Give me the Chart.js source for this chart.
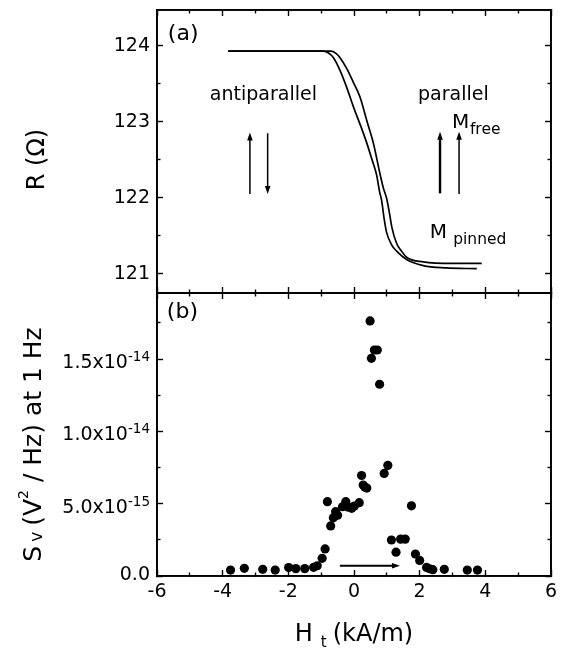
<!DOCTYPE html>
<html>
<head>
<meta charset="utf-8">
<script src="https://cdn.jsdelivr.net/npm/chart.js@4.4.0/dist/chart.umd.min.js"></script>
<style>
  html, body { margin: 0; padding: 0; background: #fff; }
  #wrap { position: relative; width: 563px; height: 649px; overflow: hidden; background: #fff; }
  canvas { position: absolute; left: 0; }
  #panelA { top: 0; }
  #panelB { top: 283px; }
</style>
</head>
<body>
<div id="wrap">
  <canvas id="panelA" width="563" height="300"></canvas>
  <canvas id="panelB" width="563" height="366"></canvas>
</div>
<script>
// (a) resistance vs field, two sweep branches (H in kA/m, R in ohm)
const branch1H = [-3.83, -1.50, -0.95, -0.80, -0.62, -0.43, -0.22, -0.02, 0.20, 0.39, 0.55, 0.69, 0.78, 0.84, 0.92, 0.99, 1.15, 1.30, 1.60, 2.11, 2.80, 3.74];
const branch1R = [123.93, 123.93, 123.93, 123.91, 123.84, 123.68, 123.45, 123.20, 122.95, 122.72, 122.50, 122.30, 122.08, 121.97, 121.72, 121.55, 121.38, 121.30, 121.19, 121.11, 121.08, 121.07];
const branch2H = [-3.83, -1.50, -0.70, -0.55, -0.42, -0.22, -0.02, 0.18, 0.40, 0.59, 0.79, 0.90, 0.99, 1.08, 1.15, 1.30, 1.45, 1.60, 2.11, 3.00, 3.89];
const branch2R = [123.93, 123.93, 123.93, 123.90, 123.84, 123.70, 123.52, 123.33, 123.00, 122.72, 122.32, 122.12, 122.00, 121.80, 121.62, 121.40, 121.30, 121.22, 121.16, 121.14, 121.14];

// (b) noise power at 1 Hz (V^2/Hz)
const noiseH = [-3.76, -3.34, -2.78, -2.40, -1.99, -1.77, -1.50, -1.23, -1.12, -0.97, -0.88, -0.81, -0.71, -0.63, -0.56, -0.50, -0.35, -0.25, -0.17, -0.07, 0.01, 0.16, 0.23, 0.28, 0.33, 0.39, 0.49, 0.53, 0.62, 0.71, 0.78, 0.92, 1.03, 1.14, 1.28, 1.42, 1.56, 1.75, 1.87, 2.00, 2.21, 2.30, 2.40, 2.75, 3.45, 3.76];
const noiseS = [4.1e-16, 5.3e-16, 4.6e-16, 4.1e-16, 5.8e-16, 5.1e-16, 5.1e-16, 6.0e-16, 7.1e-16, 1.22e-15, 1.87e-15, 5.14e-15, 3.46e-15, 4.02e-15, 4.45e-15, 4.20e-15, 4.79e-15, 5.14e-15, 4.76e-15, 4.68e-15, 4.84e-15, 5.07e-15, 6.95e-15, 6.29e-15, 6.15e-15, 6.08e-15, 1.764e-14, 1.505e-14, 1.563e-14, 1.563e-14, 1.326e-14, 7.09e-15, 7.65e-15, 2.49e-15, 1.65e-15, 2.55e-15, 2.55e-15, 4.85e-15, 1.52e-15, 1.08e-15, 5.9e-16, 5.0e-16, 4.4e-16, 4.6e-16, 4.1e-16, 4.1e-16];

// axes
const hRange = [-6, 6];
const hTicks = [-6, -4, -2, 0, 2, 4, 6];
const hMinor = [-5, -3, -1, 1, 3, 5];
const rRange = [120.75, 124.47];
const rTicks = [121, 122, 123, 124];
const rMinor = [121.5, 122.5, 123.5];
const sRange = [0, 1.957e-14];
const sTicks = [0, 5e-15, 1e-14, 1.5e-14];
const sMinor = [2.5e-15, 7.5e-15, 1.25e-14, 1.75e-14];
const sTickText = ['0.0', '5.0x10', '1.0x10', '1.5x10'];
const sTickExp = ['', '-15', '-14', '-14'];

const FONT = '"DejaVu Sans", sans-serif';

// one set of inward tick marks; size = room the box takes in the layout
function tickAxis(position, range, values, len, size, weight, labelOpts) {
  return {
    type: 'linear',
    position: position,
    weight: weight,
    min: range[0],
    max: range[1],
    afterBuildTicks: s => { s.ticks = values.map(v => ({ value: v })); },
    afterFit: s => {
      if (s.isHorizontal()) s.height = size; else s.width = size;
      s.paddingLeft = s.paddingRight = s.paddingTop = s.paddingBottom = 0;
    },
    grid: { drawOnChartArea: false, drawTicks: true, tickLength: -len, tickColor: '#000', tickWidth: 1.4 },
    border: { display: true, color: '#000', width: 1.8 },
    ticks: labelOpts
      ? Object.assign({ display: true, autoSkip: false, maxRotation: 0, color: '#000', font: { family: FONT, size: 19 } }, labelOpts)
      : { display: false }
  };
}

function frame(xRange, yRange, xMajor, xMinor, yMajor, yMinor, bottomSize, xLabels, yLabels) {
  return {
    xm: tickAxis('bottom', xRange, xMinor, 3.5, 0, 0),
    x: tickAxis('bottom', xRange, xMajor, 6, bottomSize, 1, xLabels),
    xt: tickAxis('top', xRange, xMajor, 6, 0, 0),
    xtm: tickAxis('top', xRange, xMinor, 3.5, 0, 1),
    y: tickAxis('left', yRange, yMajor, 6, 157, 1, yLabels),
    ym: tickAxis('left', yRange, yMinor, 3.5, 0, 0),
    yr: tickAxis('right', yRange, yMajor, 6, 0, 0),
    yrm: tickAxis('right', yRange, yMinor, 3.5, 0, 1)
  };
}

function arrow(ctx, x1, y1, x2, y2, lw) {
  const a = Math.atan2(y2 - y1, x2 - x1), len = 8, half = 2.8;
  const c = Math.cos(a), s = Math.sin(a);
  ctx.lineWidth = lw;
  ctx.beginPath();
  ctx.moveTo(x1, y1);
  ctx.lineTo(x2 - c * len * 0.7, y2 - s * len * 0.7);
  ctx.stroke();
  ctx.beginPath();
  ctx.moveTo(x2, y2);
  ctx.lineTo(x2 - c * len - s * half, y2 - s * len + c * half);
  ctx.lineTo(x2 - c * len + s * half, y2 - s * len - c * half);
  ctx.closePath();
  ctx.fill();
}

// text made of pieces (sub/superscripts), centred on (cx, cy) at baseline
function richText(ctx, parts, cx, cy, rot) {
  ctx.save();
  ctx.translate(cx, cy);
  ctx.rotate(rot);
  ctx.textAlign = 'left';
  ctx.textBaseline = 'alphabetic';
  let total = 0;
  parts.forEach(p => {
    ctx.font = p.size + 'px ' + FONT;
    p.w = ctx.measureText(p.t).width;
    total += p.w + (p.gap || 0);
  });
  let x = -total / 2;
  parts.forEach(p => {
    ctx.font = p.size + 'px ' + FONT;
    ctx.fillText(p.t, x, p.dy || 0);
    x += p.w + (p.gap || 0);
  });
  ctx.restore();
}

// annotations of panel (a), placed in data units
const notesA = [
  { t: '(a)', h: -5.67, r: 124.075, size: 22 },
  { t: 'antiparallel', h: -4.39, r: 123.29, size: 19 },
  { t: 'parallel', h: 1.95, r: 123.29, size: 19 },
  { t: 'M', h: 2.985, r: 122.92, size: 20 },
  { t: 'free', h: 3.53, r: 122.84, size: 15.5 },
  { t: 'M', h: 2.31, r: 121.47, size: 20 },
  { t: 'pinned', h: 3.02, r: 121.40, size: 15.5 }
];
const arrowsA = [
  { h: -3.17, from: 122.05, to: 122.86, w: 1.5 },
  { h: -2.63, from: 122.85, to: 122.05, w: 1.5 },
  { h: 2.62, from: 122.06, to: 122.87, w: 2.4 },
  { h: 3.20, from: 122.05, to: 122.87, w: 1.5 }
];

const drawA = {
  id: 'drawA',
  afterDraw(chart) {
    const { ctx, chartArea: area } = chart;
    const x = chart.scales.x, y = chart.scales.y;
    ctx.save();
    ctx.fillStyle = '#000';
    ctx.strokeStyle = '#000';
    ctx.textAlign = 'left';
    ctx.textBaseline = 'alphabetic';
    notesA.forEach(n => {
      ctx.font = n.size + 'px ' + FONT;
      ctx.fillText(n.t, x.getPixelForValue(n.h), y.getPixelForValue(n.r));
    });
    arrowsA.forEach(a => arrow(ctx, x.getPixelForValue(a.h), y.getPixelForValue(a.from), x.getPixelForValue(a.h), y.getPixelForValue(a.to), a.w));
    richText(ctx, [{ t: 'R (Ω)', size: 24 }], area.left - 113, (area.top + area.bottom) / 2 + 8, -Math.PI / 2);
    ctx.restore();
  }
};

const drawB = {
  id: 'drawB',
  afterDraw(chart) {
    const { ctx, chartArea: area } = chart;
    const x = chart.scales.x, y = chart.scales.y;
    ctx.save();
    ctx.fillStyle = '#000';
    ctx.strokeStyle = '#000';
    ctx.textBaseline = 'alphabetic';
    ctx.textAlign = 'left';
    ctx.font = '22px ' + FONT;
    ctx.fillText('(b)', x.getPixelForValue(-5.70), y.getPixelForValue(1.785e-14));
    arrow(ctx, x.getPixelForValue(-0.43), y.getPixelForValue(7.1e-16), x.getPixelForValue(1.40), y.getPixelForValue(7.1e-16), 2);

    // y tick labels with exponents
    ctx.textAlign = 'right';
    sTicks.forEach((v, i) => {
      const py = y.getPixelForValue(v);
      const right = area.left - 7;
      if (sTickExp[i]) {
        ctx.font = '13.5px ' + FONT;
        const ew = ctx.measureText(sTickExp[i]).width;
        ctx.fillText(sTickExp[i], right, py + 2);
        ctx.font = '19px ' + FONT;
        ctx.fillText(sTickText[i], right - ew, py + 9);
      } else {
        ctx.font = '19px ' + FONT;
        ctx.fillText(sTickText[i], right, py + 4);
      }
    });

    richText(ctx, [
      { t: 'S', size: 25, gap: 4 },
      { t: 'v', size: 17, dy: 1, gap: 6 },
      { t: '(V', size: 25 },
      { t: '2', size: 14, dy: -13 },
      { t: ' / Hz) at 1 Hz', size: 25 }
    ], 41, (area.top + area.bottom) / 2 + 10, -Math.PI / 2);

    richText(ctx, [
      { t: 'H', size: 24, gap: 8 },
      { t: 't', size: 15, dy: 6, gap: 6 },
      { t: '(kA/m)', size: 24 }
    ], (area.left + area.right) / 2, area.bottom + 65, 0);
    ctx.restore();
  }
};

function points(hs, vs) { return hs.map((h, i) => ({ x: h, y: vs[i] })); }

const common = {
  responsive: false,
  animation: false,
  devicePixelRatio: 1,
  plugins: { legend: { display: false }, tooltip: { enabled: false } }
};

new Chart(document.getElementById('panelA'), {
  type: 'scatter',
  data: {
    datasets: [branch1H, branch2H].map((hs, k) => ({
      data: points(hs, k === 0 ? branch1R : branch2R),
      xAxisID: 'x', yAxisID: 'y',
      showLine: true,
      cubicInterpolationMode: 'monotone',
      borderColor: '#000',
      borderWidth: 1.7,
      pointRadius: 0
    }))
  },
  options: Object.assign({}, common, {
    layout: { padding: { left: 0, right: 12, top: 10, bottom: 7 } },
    scales: frame(hRange, rRange, hTicks, hMinor, rTicks, rMinor, 0, null, { padding: 13 })
  }),
  plugins: [drawA]
});

new Chart(document.getElementById('panelB'), {
  type: 'scatter',
  data: {
    datasets: [{
      data: points(noiseH, noiseS),
      xAxisID: 'x', yAxisID: 'y',
      showLine: false,
      pointRadius: 4.6,
      pointBackgroundColor: '#000',
      pointBorderWidth: 0
    }]
  },
  options: Object.assign({}, common, {
    layout: { padding: { left: 0, right: 12, top: 10, bottom: 0 } },
    scales: frame(hRange, sRange, hTicks, hMinor, sTicks, sMinor, 73, { padding: 11 }, null)
  }),
  plugins: [drawB]
});
</script>
</body>
</html>
